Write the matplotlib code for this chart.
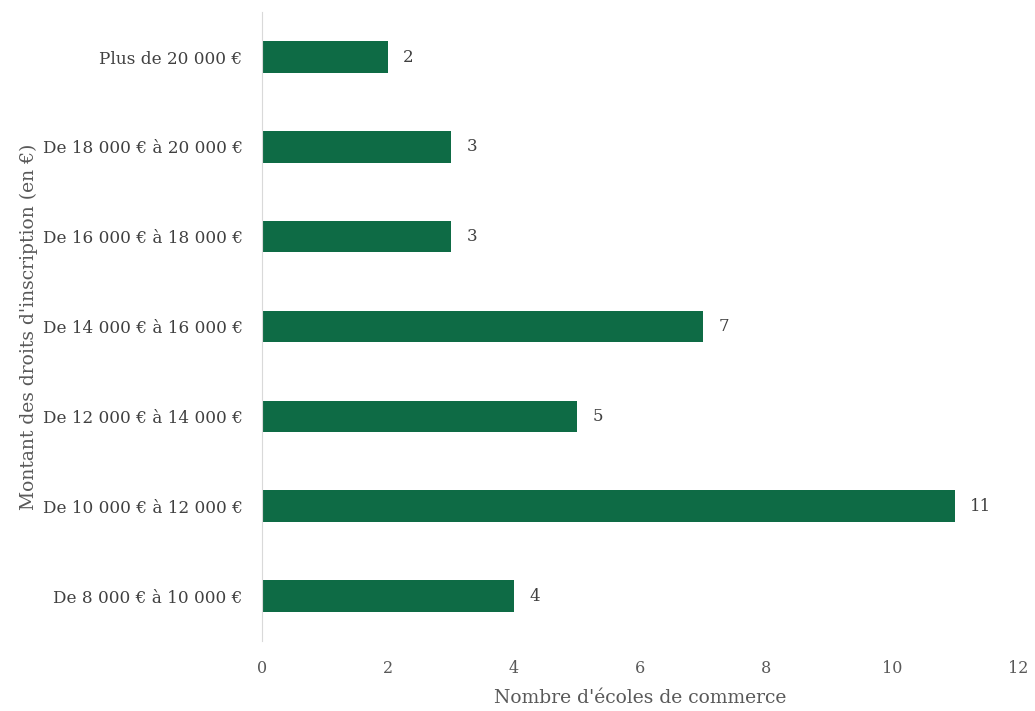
import matplotlib.pyplot as plt
import numpy as np

categories = [
    'De 8 000 € à 10 000 €',
    'De 10 000 € à 12 000 €',
    'De 12 000 € à 14 000 €',
    'De 14 000 € à 16 000 €',
    'De 16 000 € à 18 000 €',
    'De 18 000 € à 20 000 €',
    'Plus de 20 000 €',
]
counts = [4, 11, 5, 7, 3, 3, 2]

plt.rcParams['font.family'] = ['DejaVu Serif']

fig = plt.figure(figsize=(10.35, 7.11), dpi=100)
ax = fig.add_axes([0.2531, 0.0985, 0.7305, 0.8845])

y = np.arange(len(categories))
rects = ax.barh(y, counts, height=0.35, color='#0e6b45')
ax.bar_label(rects, padding=11, fontsize=12, color='#404040')

ax.set_xlim(0, 12)
ax.set_ylim(-0.5, len(categories) - 0.5)
ax.set_xticks(np.arange(0, 13, 2))
ax.set_yticks(y, categories)

for s in ['top', 'right', 'bottom']:
    ax.spines[s].set_visible(False)
ax.spines['left'].set_color('#d9d9d9')
ax.tick_params(axis='both', length=0)
ax.tick_params(axis='y', labelsize=12.2, labelcolor='#404040', pad=14)
ax.tick_params(axis='x', labelsize=11.5, labelcolor='#595959', pad=14)

ax.set_xlabel("Nombre d'écoles de commerce", fontsize=13.5, color='#595959', labelpad=8)
ax.set_ylabel("Montant des droits d'inscription (en €)", fontsize=13.5, color='#595959', labelpad=3)

plt.savefig('out.png')
